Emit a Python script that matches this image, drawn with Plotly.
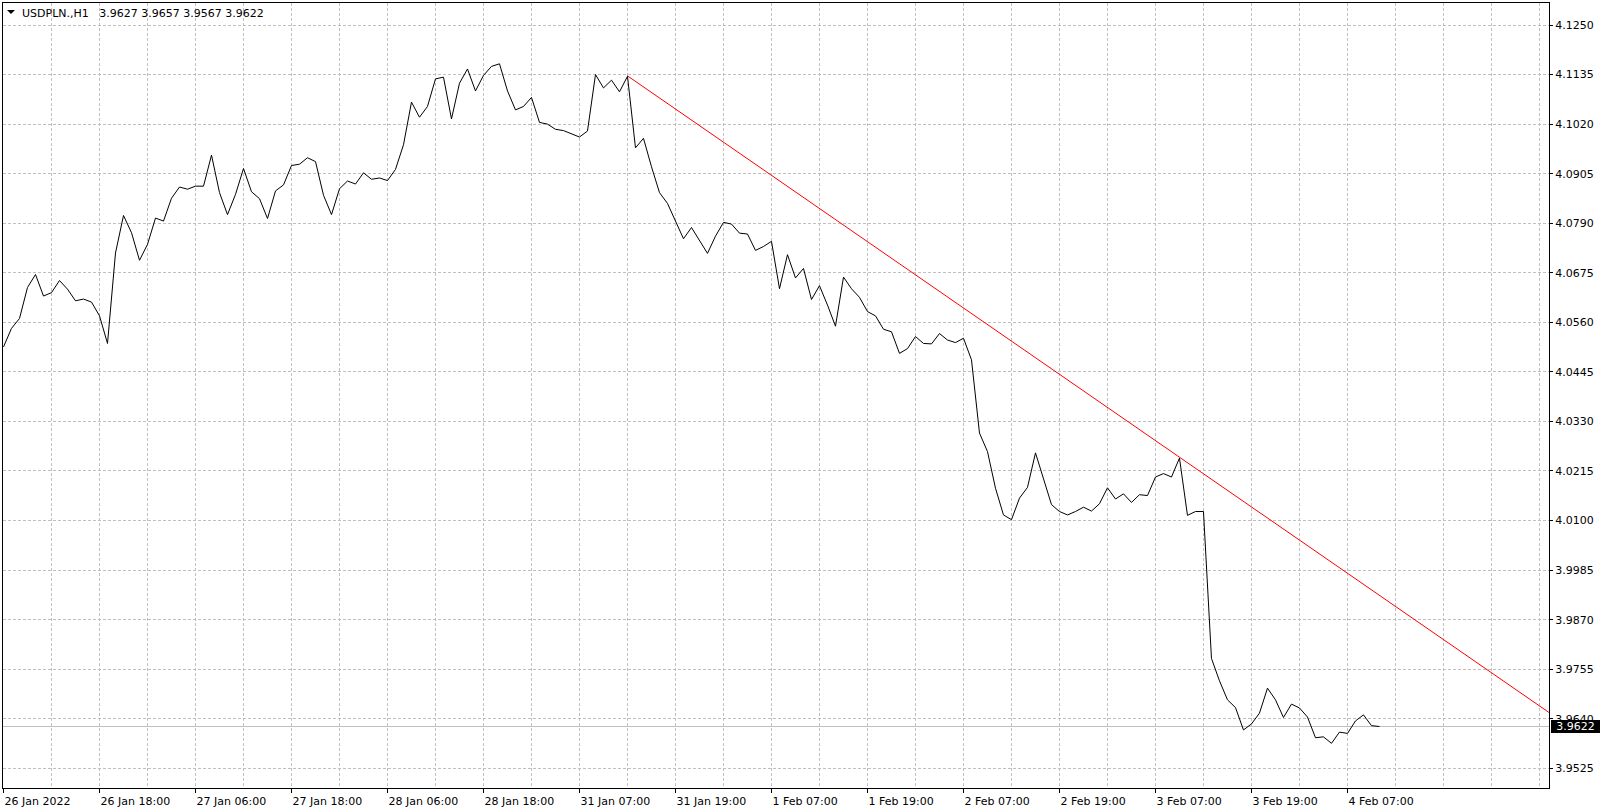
import plotly.graph_objects as go

# ---------------- data ----------------
close_prices = [
    4.0503, 4.0546, 4.0569, 4.0641, 4.0671, 4.0621, 4.0629, 4.0657, 4.0637, 4.0610,
    4.0614, 4.0607, 4.0575, 4.0511, 4.0721, 4.0808, 4.0768, 4.0704, 4.0741, 4.0802,
    4.0795, 4.0848, 4.0874, 4.0869, 4.0876, 4.0876, 4.0948, 4.0861, 4.0810, 4.0857,
    4.0917, 4.0863, 4.0847, 4.0801, 4.0865, 4.0879, 4.0924, 4.0927, 4.0942, 4.0933,
    4.0855, 4.0810, 4.0870, 4.0888, 4.0881, 4.0907, 4.0892, 4.0895, 4.0889, 4.0915,
    4.0972, 4.1071, 4.1036, 4.1061, 4.1125, 4.1129, 4.1032, 4.1115, 4.1148, 4.1097,
    4.1133, 4.1154, 4.1160, 4.1097, 4.1053, 4.1061, 4.1082, 4.1024, 4.1020, 4.1008,
    4.1005, 4.0998, 4.0990, 4.1004, 4.1135, 4.1104, 4.1122, 4.1095, 4.1131, 4.0965,
    4.0987, 4.0921, 4.0861, 4.0836, 4.0797, 4.0754, 4.0780, 4.0749, 4.0720, 4.0760,
    4.0792, 4.0788, 4.0767, 4.0765, 4.0727, 4.0736, 4.0748, 4.0638, 4.0717, 4.0663,
    4.0685, 4.0613, 4.0645, 4.0600, 4.0551, 4.0665, 4.0638, 4.0618, 4.0585, 4.0575,
    4.0544, 4.0538, 4.0488, 4.0499, 4.0527, 4.0511, 4.0510, 4.0534, 4.0519, 4.0513,
    4.0523, 4.0473, 4.0303, 4.0260, 4.0175, 4.0113, 4.0102, 4.0152, 4.0177, 4.0257,
    4.0199, 4.0137, 4.0121, 4.0113, 4.0121, 4.0131, 4.0122, 4.0139, 4.0176, 4.0150,
    4.0162, 4.0142, 4.0160, 4.0158, 4.0201, 4.0209, 4.0201, 4.0245, 4.0112, 4.0121,
    4.0121, 3.9780, 3.9728, 3.9684, 3.9666, 3.9614, 3.9628, 3.9653, 3.9711, 3.9684,
    3.9643, 3.9674, 3.9665, 3.9644, 3.9596, 3.9598, 3.9583, 3.9609, 3.9606, 3.9635,
    3.9649, 3.9624, 3.9622,
]
bar_index = list(range(len(close_prices)))

x_tick_bars = [0, 12, 24, 36, 48, 60, 72, 84, 96, 108, 120, 132, 144, 156, 168]
x_tick_labels = [
    "26 Jan 2022", "26 Jan 18:00", "27 Jan 06:00", "27 Jan 18:00", "28 Jan 06:00",
    "28 Jan 18:00", "31 Jan 07:00", "31 Jan 19:00", "1 Feb 07:00", "1 Feb 19:00",
    "2 Feb 07:00", "2 Feb 19:00", "3 Feb 07:00", "3 Feb 19:00", "4 Feb 07:00",
]
x_grid_step = 6
y_tick_start = 3.9525
y_tick_step = 0.0115

trend_bars = [78, 147]
trend_prices = [4.1132, 4.0247]

last_price = 3.9622
header_text = "USDPLN.,H1\u00a0\u00a0 3.9627 3.9657 3.9567 3.9622"

x_range = [-0.0625, 193.19]
y_range = [3.94793, 4.13011]

# ---------------- style ----------------
FONT = "DejaVu Sans"
GRID = "#c0c0c0"
DASH = "3px,2px"

fig = go.Figure()

fig.add_trace(go.Scatter(
    x=bar_index, y=close_prices, mode="lines",
    line=dict(color="black", width=1), hoverinfo="skip", showlegend=False,
))

# trend line (ray) from two anchors, extended to the right edge
slope = (trend_prices[1] - trend_prices[0]) / (trend_bars[1] - trend_bars[0])
x_end = x_range[1]
y_end = trend_prices[1] + slope * (x_end - trend_bars[1])
fig.add_trace(go.Scatter(
    x=[trend_bars[0], x_end], y=[trend_prices[0], y_end], mode="lines",
    line=dict(color="#ff0000", width=1), hoverinfo="skip", showlegend=False,
))

# current price line
fig.add_shape(type="line", xref="paper", x0=0, x1=1, yref="y",
              y0=last_price, y1=last_price,
              line=dict(color=GRID, width=1), layer="below")

# small triangle in the header
fig.add_shape(type="path", xref="paper", yref="paper",
              xsizemode="pixel", ysizemode="pixel", xanchor=0, yanchor=1,
              path="M 4,-7 L 12,-7 L 8,-11 Z",
              fillcolor="black", line=dict(color="black", width=0))

fig.add_annotation(
    xref="paper", yref="paper", x=0, y=1, xanchor="left", yanchor="middle",
    xshift=17, yshift=-10, text=header_text, showarrow=False,
    font=dict(family=FONT, size=11, color="black"),
)

fig.add_annotation(
    xref="paper", yref="y", x=1, y=last_price, xanchor="left", yanchor="middle",
    xshift=2, text=f"{last_price:.4f}", showarrow=False,
    font=dict(family=FONT, size=11, color="white"),
    bgcolor="black", width=47, height=11, borderpad=1, borderwidth=0,
    align="center",
)

fig.update_layout(
    width=1606, height=812,
    margin=dict(l=3, r=57, t=3, b=24, pad=0),
    paper_bgcolor="white", plot_bgcolor="white",
    showlegend=False, hovermode=False,
    font=dict(family=FONT, size=11, color="black"),
    xaxis=dict(
        range=x_range, tickmode="array", tickvals=x_tick_bars, ticktext=x_tick_labels,
        showgrid=True, gridcolor=GRID, griddash=DASH, gridwidth=1,
        minor=dict(tickmode="linear", tick0=0, dtick=x_grid_step, showgrid=True,
                   gridcolor=GRID, griddash=DASH, gridwidth=1, ticks=""),
        showline=True, linecolor="black", linewidth=1, mirror=True,
        ticks="outside", ticklen=4, tickcolor="black", tickwidth=1,
        ticklabelposition="outside right", ticklabelstandoff=3,
        tickfont=dict(family=FONT, size=11, color="black"),
        zeroline=False, fixedrange=True,
    ),
    yaxis=dict(
        range=y_range, side="right", tickmode="linear", tick0=y_tick_start, dtick=y_tick_step,
        tickformat=".4f",
        showgrid=True, gridcolor=GRID, griddash=DASH, gridwidth=1,
        showline=True, linecolor="black", linewidth=1, mirror=True,
        ticks="outside", ticklen=3, tickcolor="black", tickwidth=1,
        tickfont=dict(family=FONT, size=11, color="black"),
        zeroline=False, fixedrange=True,
    ),
)

fig.write_html(
    "out.html",
    config={"displayModeBar": False},
    post_script="document.body.style.margin='0';document.body.style.padding='0';"
                "document.body.style.overflow='hidden';",
)
